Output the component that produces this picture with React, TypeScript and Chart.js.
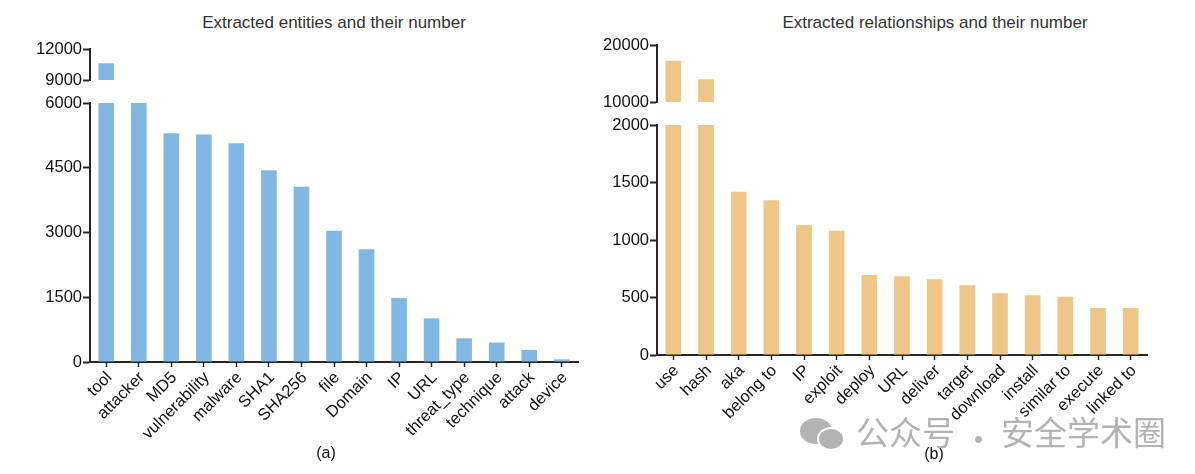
import React, { useEffect, useRef } from "react";
import { Chart, registerables } from "chart.js";

Chart.register(...registerables);

// ---------- data ----------
const entityCategories = [
  "tool", "attacker", "MD5", "vulnerability", "malware", "SHA1", "SHA256", "file",
  "Domain", "IP", "URL", "threat_type", "technique", "attack", "device",
];
const entityCounts = [10630, 6000, 5300, 5270, 5070, 4440, 4060, 3040, 2610, 1480, 1010, 550, 450, 280, 60];
const entityLowerTicks = [0, 1500, 3000, 4500, 6000];
const entityUpperTicks = [9000, 12000];

const relationCategories = [
  "use", "hash", "aka", "belong to", "IP", "exploit", "deploy", "URL", "deliver",
  "target", "download", "install", "similar to", "execute", "linked to",
];
const relationCounts = [17230, 14000, 1420, 1345, 1130, 1080, 696, 684, 658, 607, 537, 519, 507, 409, 409];
const relationLowerTicks = [0, 500, 1000, 1500, 2000];
const relationUpperTicks = [10000, 20000];

const entityTitle = "Extracted entities and their number";
const relationTitle = "Extracted relationships and their number";

// ---------- styles ----------
const FONT = "'Liberation Sans', Arial, Helvetica, sans-serif";
const AXIS_COLOR = "#262626";
const BLUE = "#80b7e3";
const ORANGE = "#eec687";

type SegmentProps = {
  left: number;
  top: number;
  width: number;
  height: number;
  categories: string[];
  values: number[];
  ticks: number[];
  color: string;
  yWidth: number;
  padTop: number;
  padBottom: number;
  padRight: number;
  showX: boolean;
  xHeight?: number;
};

function Segment(p: SegmentProps) {
  const ref = useRef<HTMLCanvasElement | null>(null);
  useEffect(() => {
    if (!ref.current) return;
    const chart = new Chart(ref.current, {
      type: "bar",
      data: {
        labels: p.categories,
        datasets: [
          {
            data: p.values,
            backgroundColor: p.color,
            borderWidth: 0,
            barPercentage: 0.48,
            categoryPercentage: 1,
          },
        ],
      },
      options: {
        animation: false,
        responsive: true,
        maintainAspectRatio: false,
        layout: { padding: { top: p.padTop, bottom: p.padBottom, left: 0, right: p.padRight } },
        plugins: { legend: { display: false }, tooltip: { enabled: false }, title: { display: false } },
        scales: {
          x: {
            display: p.showX,
            offset: true,
            afterFit: (s: any) => {
              if (p.xHeight) s.height = p.xHeight;
            },
            border: { display: true, color: AXIS_COLOR, width: 2 },
            grid: {
              display: true,
              drawOnChartArea: false,
              drawTicks: true,
              tickLength: 5,
              tickWidth: 1.5,
              tickColor: AXIS_COLOR,
              offset: false,
            },
            ticks: {
              autoSkip: false,
              minRotation: 45,
              maxRotation: 45,
              padding: 1,
              labelOffset: 3,
              color: "#111",
              font: { family: FONT, size: 16.5 },
            },
          },
          y: {
            min: p.ticks[0],
            max: p.ticks[p.ticks.length - 1],
            afterBuildTicks: (s: any) => {
              s.ticks = p.ticks.map((v) => ({ value: v }));
            },
            afterFit: (s: any) => {
              s.width = p.yWidth;
            },
            border: { display: true, color: AXIS_COLOR, width: 2 },
            grid: {
              display: true,
              drawOnChartArea: false,
              drawTicks: true,
              tickLength: 7,
              tickWidth: 2,
              tickColor: AXIS_COLOR,
            },
            ticks: {
              padding: 1,
              color: "#111",
              font: { family: FONT, size: 16.5 },
              callback: (v: any) => String(v),
            },
          },
        },
      },
    } as any);
    return () => chart.destroy();
  }, []);
  return (
    <div style={{ position: "absolute", left: p.left, top: p.top, width: p.width, height: p.height }}>
      <canvas ref={ref} />
    </div>
  );
}

const textBase: React.CSSProperties = {
  position: "absolute",
  fontFamily: FONT,
  whiteSpace: "nowrap",
};

export default function App() {
  return (
    <div style={{ position: "absolute", left: 0, top: 0, width: 1195, height: 474, background: "#fff", overflow: "hidden" }}>
      {/* titles */}
      <div style={{ ...textBase, left: 134, width: 400, top: 14, fontSize: 17, lineHeight: "17px", textAlign: "center", color: "#333" }}>
        {entityTitle}
      </div>
      <div style={{ ...textBase, left: 735, width: 400, top: 14, fontSize: 17, lineHeight: "17px", textAlign: "center", color: "#333" }}>
        {relationTitle}
      </div>

      {/* panel (a) */}
      <Segment
        left={0} top={37} width={600} height={55}
        categories={entityCategories} values={entityCounts} ticks={entityUpperTicks}
        color={BLUE} yWidth={90} padTop={12} padBottom={12} padRight={22} showX={false}
      />
      <Segment
        left={0} top={90} width={600} height={382}
        categories={entityCategories} values={entityCounts} ticks={entityLowerTicks}
        color={BLUE} yWidth={90} padTop={13} padBottom={0} padRight={22} showX={true} xHeight={110}
      />

      {/* panel (b) */}
      <Segment
        left={560} top={33} width={607} height={81}
        categories={relationCategories} values={relationCounts} ticks={relationUpperTicks}
        color={ORANGE} yWidth={97} padTop={12} padBottom={12} padRight={20} showX={false}
      />
      <Segment
        left={560} top={112} width={607} height={353}
        categories={relationCategories} values={relationCounts} ticks={relationLowerTicks}
        color={ORANGE} yWidth={97} padTop={13} padBottom={0} padRight={20} showX={true} xHeight={110}
      />

      {/* panel letters */}
      <div style={{ ...textBase, left: 276, width: 100, top: 445, fontSize: 16, lineHeight: "16px", textAlign: "center", color: "#111" }}>
        (a)
      </div>
      <div style={{ ...textBase, left: 884, width: 100, top: 446, fontSize: 16, lineHeight: "16px", textAlign: "center", color: "#111" }}>
        (b)
      </div>

      {/* watermark */}
      <div style={{ position: "absolute", left: 800, top: 418, width: 32, height: 26, borderRadius: "50%", background: "#b3b3b3" }} />
      <div style={{ position: "absolute", left: 817, top: 427, width: 28, height: 24, borderRadius: "50%", background: "#b3b3b3", border: "2px solid #fff", boxSizing: "border-box" }} />
      <div style={{ ...textBase, fontFamily: "'Noto Sans CJK SC', sans-serif", left: 856, top: 415, fontSize: 33, lineHeight: "33px", color: "#b3b3b3" }}>
        公众号
      </div>
      <div style={{ ...textBase, fontFamily: "'Noto Sans CJK SC', sans-serif", left: 962, width: 20, textAlign: "center", top: 422, fontSize: 33, lineHeight: "33px", color: "#b3b3b3" }}>
        ·
      </div>
      <div style={{ ...textBase, fontFamily: "'Noto Sans CJK SC', sans-serif", left: 1001, top: 415, fontSize: 33, lineHeight: "33px", color: "#b3b3b3" }}>
        安全学术圈
      </div>
    </div>
  );
}
